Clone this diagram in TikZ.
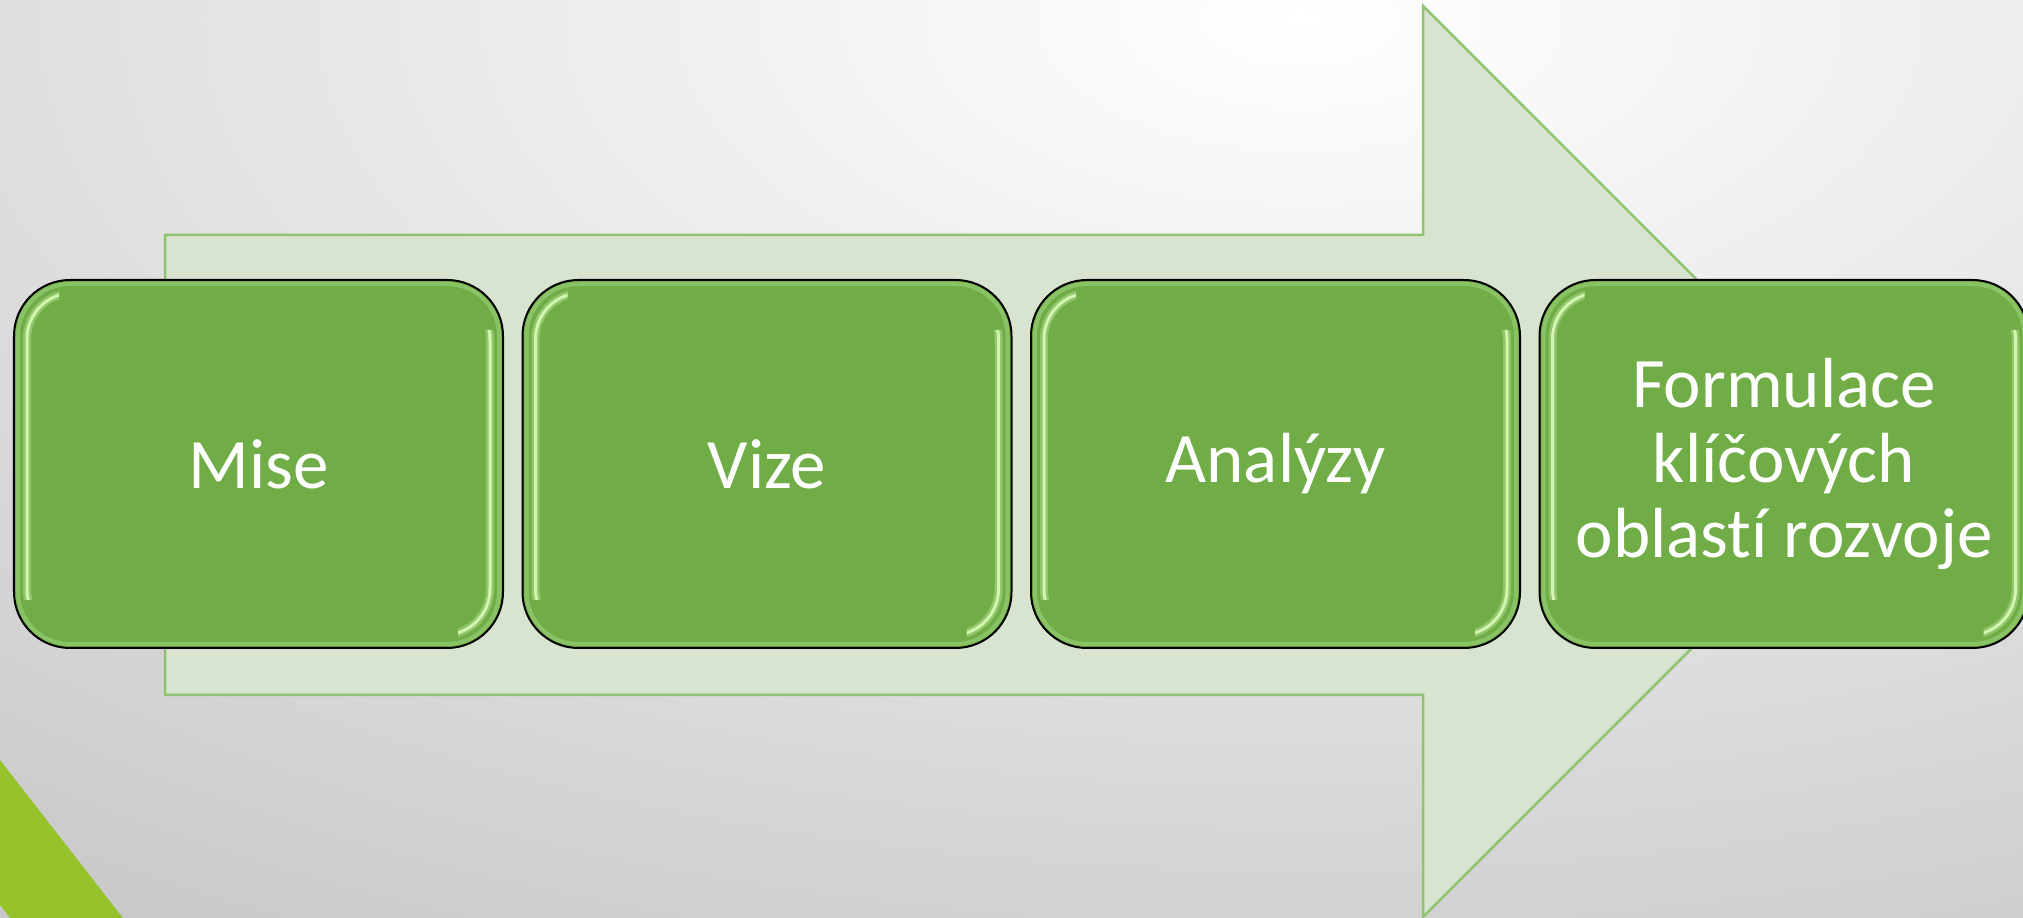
\documentclass[tikz,border=0pt]{standalone}
\usepackage{fontspec}
\setmainfont{Carlito}[Ligatures=NoCommon]
\usetikzlibrary{calc}
\definecolor{boxgreen}{RGB}{112,173,71}
\definecolor{arrowfill}{RGB}{216,228,208}
\definecolor{arrowline}{RGB}{143,194,113}
\definecolor{cornergreen}{RGB}{150,194,44}
\definecolor{bgedge}{RGB}{140,140,140}
\definecolor{glow}{RGB}{210,245,175}
\definecolor{rim}{RGB}{150,205,115}
\pgfdeclareradialshading{slidebg}{\pgfpoint{0bp}{0bp}}{color(0bp)=(white); color(50bp)=(bgedge)}
\tikzset{
  stagebox/.style={draw=black, line width=2bp, fill=boxgreen, rounded corners=56bp,
    minimum width=489bp, minimum height=368bp, inner sep=0pt, text=white, align=center,
    font=\fontsize{71bp}{75bp}\selectfont},
  rimline/.style={draw=rim, line width=4bp, opacity=.7},
  glowline/.style={draw=glow, line width=3bp},
  softglow/.style={draw=glow, line width=8bp, opacity=.35}
}

\begin{document}
\begin{tikzpicture}[x=1bp, y=1bp]
                  \useasboundingbox (0, 0) rectangle (2023, 918);
                  \clip (0, 0) rectangle (2023, 918);
                  \shade[shading=slidebg] (1300, 900) ellipse [x radius=2300, y radius=1150];
                  \fill[cornergreen] (0, 158) -- (123, 0) -- (10, 0) -- (0, 13) -- cycle;
                  \draw[arrowline, fill=arrowfill, line width=2.5bp]
                      (165, 683) -- (1423, 683) -- (1423, 912) -- (1878.5, 456.5)
                      -- (1423, 1) -- (1423, 223) -- (165, 223) -- cycle;
                  \foreach \i/\name/\txt in {0/mise/Mise, 1/vize/Vize, 2/analyzy/Analýzy,
                          3/formulace/{Formulace\\klíčových\\oblastí rozvoje}} {
                      \pgfmathsetmacro\x{14 + 508.5*\i}
                      \node[stagebox] (\name) at (\x + 244.5, 454) {\txt};
                      \draw[rimline, rounded corners=52] (\x + 4, 274) rectangle (\x + 485, 634);
                      \begin{scope}
                          \clip (\x, 318) rectangle (\x + 45, 630) (\x + 444, 270) rectangle (\x + 489, 588);
                          \draw[softglow, rounded corners=46] (\x + 13, 283) rectangle (\x + 476, 625);
                          \draw[glowline, rounded corners=46] (\x + 13, 283) rectangle (\x + 476, 625);
                      \end{scope}
                  }
              \end{tikzpicture}
\end{document}
